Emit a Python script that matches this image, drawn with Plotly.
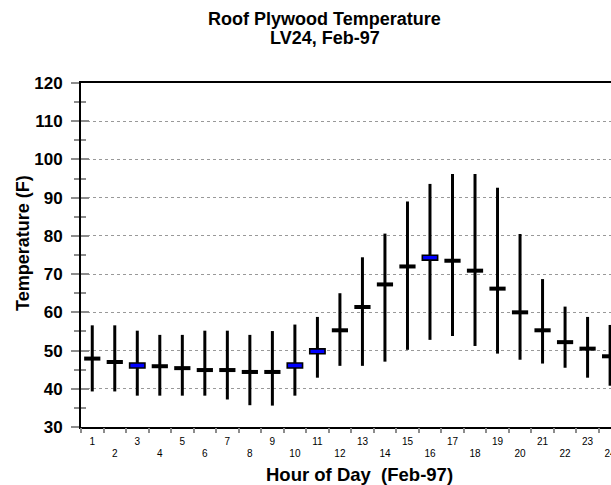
import plotly.graph_objects as go

hours = list(range(1, 25))
t_max = [56.6, 56.6, 55.2, 54.1, 54.1, 55.2, 55.2, 54.1, 55.1, 56.8, 58.8, 65.0,
         74.4, 80.6, 89.0, 93.6, 96.2, 96.2, 92.6, 80.5, 68.7, 61.5, 58.8, 56.7]
t_min = [39.3, 39.3, 38.2, 38.2, 38.2, 38.2, 37.2, 35.7, 35.6, 38.2, 42.9, 46.0,
         46.0, 47.1, 50.2, 52.8, 53.8, 51.2, 49.2, 47.6, 46.6, 45.5, 42.9, 40.8]
t_mean = [47.9, 47.0, 46.1, 45.9, 45.4, 44.9, 44.9, 44.4, 44.4, 46.1, 49.8, 55.3,
          61.4, 67.3, 72.0, 74.3, 73.5, 70.9, 66.2, 60.0, 55.3, 52.2, 50.5, 48.5]
highlight_hours = [3, 10, 11, 16]
odd_hours = [h for h in hours if h % 2 == 1]
even_hours = [h for h in hours if h % 2 == 0]
boundaries = [h + 0.5 for h in range(0, 24)]

title_lines = ["Roof Plywood Temperature", "LV24, Feb-97"]
x_title = "Hour of Day \u00a0(Feb-97)"
y_title = "Temperature (F)"

FONT = "Liberation Sans, Arial, sans-serif"
GREY = "#8c8c8c"

# range lines
lx, ly = [], []
for h, lo, hi in zip(hours, t_min, t_max):
    lx += [h, h, None]
    ly += [lo, hi, None]

dash_h = 1.05
blk_x = [h for h in hours if h not in highlight_hours]
blk_m = [m for h, m in zip(hours, t_mean) if h not in highlight_hours]
blu_x = [h for h in hours if h in highlight_hours]
blu_m = [m for h, m in zip(hours, t_mean) if h in highlight_hours]

fig = go.Figure()
fig.add_trace(go.Scatter(x=lx, y=ly, mode="lines", line=dict(color="black", width=3),
                         xaxis="x", yaxis="y", hoverinfo="skip", showlegend=False))
fig.add_trace(go.Bar(x=blk_x, y=[dash_h] * len(blk_x), base=[m - dash_h / 2 for m in blk_m],
                     width=0.72, marker=dict(color="black", line=dict(width=0)),
                     xaxis="x2", yaxis="y", showlegend=False))
fig.add_trace(go.Bar(x=blu_x, y=[1.3] * len(blu_x), base=[m - 0.65 for m in blu_m],
                     width=0.68, marker=dict(color="#0000ff", line=dict(color="black", width=1.6)),
                     xaxis="x", yaxis="y2", showlegend=False))
fig.add_trace(go.Scatter(x=even_hours, y=[None] * len(even_hours), mode="markers",
                         xaxis="x3", yaxis="y", hoverinfo="skip", showlegend=False))

xr = [0.5, 24.04]
fig.update_layout(
    width=611, height=485,
    margin=dict(l=81, r=0, t=83, b=58, autoexpand=False),
    paper_bgcolor="white", plot_bgcolor="white",
    barmode="overlay",
    font=dict(family=FONT, color="black"),
    xaxis=dict(range=xr, tickmode="array", tickvals=odd_hours,
               ticktext=[str(h) for h in odd_hours],
               ticks="", showgrid=False, zeroline=False, automargin=False,
               showline=True, linecolor="black", linewidth=2, mirror=True,
               ticklabeloverflow="allow",
               tickfont=dict(size=10, family=FONT), ticklabelstandoff=4),
    xaxis3=dict(range=xr, overlaying="x", side="bottom", tickmode="array",
                tickvals=even_hours, ticktext=[str(h) for h in even_hours],
                ticks="", showgrid=False, zeroline=False, showline=False,
                automargin=False, ticklabeloverflow="allow",
                tickfont=dict(size=10, family=FONT), ticklabelstandoff=19),
    xaxis2=dict(range=xr, overlaying="x", side="bottom", tickmode="array",
                tickvals=boundaries, ticks="outside", ticklen=5, tickwidth=1.5,
                tickcolor=GREY, showticklabels=False, showgrid=False,
                zeroline=False, showline=False, automargin=False),
    yaxis=dict(range=[30, 120], tickmode="linear", tick0=30, dtick=10,
               ticks="outside", ticklen=8, tickwidth=2, tickcolor=GREY,
               showgrid=True, gridcolor="#999999", griddash="dot", gridwidth=1,
               zeroline=False, showline=True, linecolor="black", linewidth=2,
               automargin=False,
               tickfont=dict(size=17, weight="bold", family=FONT), ticklabelstandoff=5,
               minor=dict(dtick=5, ticks="outside", ticklen=5, tickwidth=2,
                          tickcolor=GREY, showgrid=False)),
    yaxis2=dict(range=[30, 120], overlaying="y", side="left", tickmode="linear",
                tick0=30, dtick=10, ticks="inside", ticklen=8, tickwidth=2,
                tickcolor=GREY, showticklabels=False, showgrid=False,
                zeroline=False, showline=False, automargin=False,
                minor=dict(dtick=5, ticks="inside", ticklen=5, tickwidth=2,
                           tickcolor=GREY, showgrid=False)),
)

W_PLOT = 611 - 81
H_PLOT = 485 - 83 - 58
def px_x(px):
    return (px - 81) / W_PLOT
def px_y(py):
    return (485 - 58 - py) / H_PLOT

fig.add_annotation(text=title_lines[0], xref="paper", yref="paper",
                   x=px_x(324.5), y=px_y(18.5), xanchor="center", yanchor="middle",
                   showarrow=False, font=dict(size=18, weight="bold", family=FONT))
fig.add_annotation(text=title_lines[1], xref="paper", yref="paper",
                   x=px_x(324.5), y=px_y(38), xanchor="center", yanchor="middle",
                   showarrow=False, font=dict(size=18, weight="bold", family=FONT))
fig.add_annotation(text=y_title, xref="paper", yref="paper", textangle=-90,
                   x=px_x(23), y=px_y(243), xanchor="center", yanchor="middle",
                   showarrow=False, font=dict(size=18, weight="bold", family=FONT))
fig.add_annotation(text=x_title, xref="paper", yref="paper",
                   x=px_x(359), y=px_y(474.5), xanchor="center", yanchor="middle",
                   showarrow=False, font=dict(size=18.5, weight="bold", family=FONT))

fig.write_html("out.html", config={"displayModeBar": False},
               post_script="document.body.style.margin='0';")
